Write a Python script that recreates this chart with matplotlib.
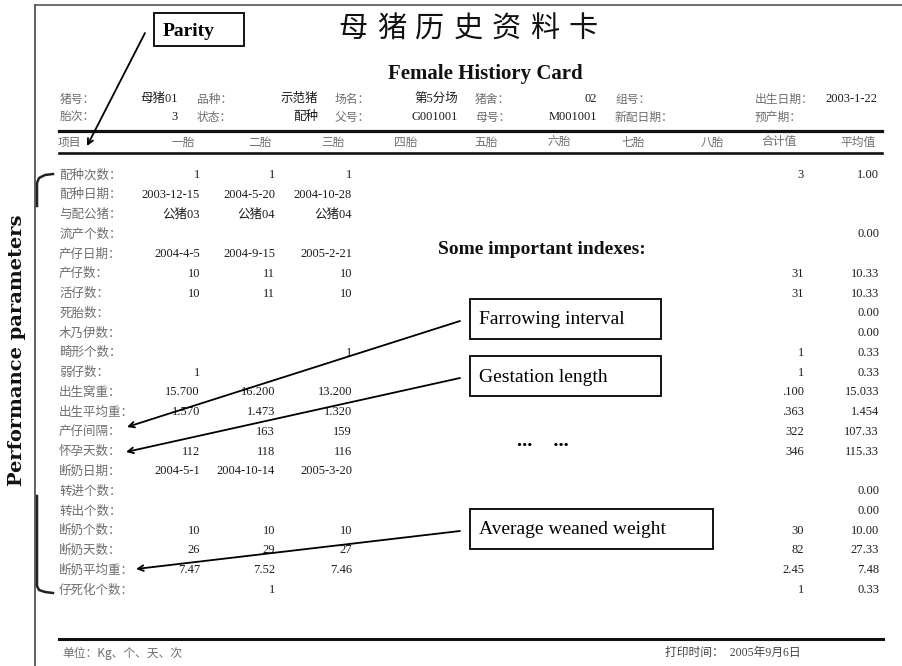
import matplotlib.pyplot as plt

# ── Card data ────────────────────────────────────────────────────────────────
title_cn = "母猪历史资料卡"
title_en = "Female Histiory Card"

info_labels_1 = ["猪号：", "品种：", "场名：", "猪舍：", "组号：", "出生日期："]
info_values_1 = ["母猪01", "示范猪", "第5分场", "02", "", "2003-1-22"]
info_labels_2 = ["胎次：", "状态：", "父号：", "母号：", "新配日期：", "预产期："]
info_values_2 = ["3", "配种", "G001001", "M001001", "", ""]

col_headers = ["项目", "一胎", "二胎", "三胎", "四胎", "五胎", "六胎", "七胎", "八胎", "合计值", "平均值"]

row_labels = ["配种次数：", "配种日期：", "与配公猪：", "流产个数：", "产仔日期：", "产仔数：",
              "活仔数：", "死胎数：", "木乃伊数：", "畸形个数：", "弱仔数：", "出生窝重：",
              "出生平均重：", "产仔间隔：", "怀孕天数：", "断奶日期：", "转进个数：", "转出个数：",
              "断奶个数：", "断奶天数：", "断奶平均重：", "仔死化个数："]

parity1 = ["1", "2003-12-15", "公猪03", "", "2004-4-5", "10", "10", "", "", "", "1", "15.700",
           "1.570", "", "112", "2004-5-1", "", "", "10", "26", "7.47", ""]
parity2 = ["1", "2004-5-20", "公猪04", "", "2004-9-15", "11", "11", "", "", "", "", "16.200",
           "1.473", "163", "118", "2004-10-14", "", "", "10", "29", "7.52", "1"]
parity3 = ["1", "2004-10-28", "公猪04", "", "2005-2-21", "10", "10", "", "", "1", "", "13.200",
           "1.320", "159", "116", "2005-3-20", "", "", "10", "27", "7.46", ""]
totals = ["3", "", "", "", "", "31", "31", "", "", "1", "1", ".100",
          ".363", "322", "346", "", "", "", "30", "82", "2.45", "1"]
averages = ["1.00", "", "", "0.00", "", "10.33", "10.33", "0.00", "0.00", "0.33", "0.33", "15.033",
            "1.454", "107.33", "115.33", "", "0.00", "0.00", "10.00", "27.33", "7.48", "0.33"]

unit_text = "单位：Kg、个、天、次"
print_text = "打印时间：  2005年9月6日"

notes = ["Farrowing interval", "Gestation length", "Average weaned weight"]

# ── Page setup (pixel coordinates) ───────────────────────────────────────────
fig = plt.figure(figsize=(9.02, 6.66), dpi=100)
ax = fig.add_axes([0, 0, 1, 1])
ax.set_xlim(0, 902)
ax.set_ylim(666, 0)
ax.axis("off")

CJK = ["Noto Sans CJK SC", "DejaVu Sans"]
NUM = ["Liberation Serif", "Noto Sans CJK SC"]
GREY = "#6e6e6e"
INK = "#1c1c1c"

# frame
ax.plot([35, 35], [5, 666], color="#444444", lw=1.2)
ax.plot([35, 902], [5, 5], color="#555555", lw=1.2)

# title
for i, ch in enumerate(title_cn):
    ax.text(353 + i * 38.3, 29, ch, family=CJK, fontsize=21, fontweight="medium",
            ha="center", va="center", color="#111111")
ax.text(485, 74, title_en, family="Liberation Serif", fontweight="bold", fontsize=15,
        ha="center", va="center", color="#111111")

# info rows
lab_x = [60, 197, 335, 475, 615, 755]
val_x = [178, 318, 458, 597, 740, 877]
for yy, labs, vals in [(99, info_labels_1, info_values_1), (117, info_labels_2, info_values_2)]:
    for lx, vx, lab, val in zip(lab_x, val_x, labs, vals):
        ax.text(lx, yy, lab, family=CJK, fontsize=8.5, color=GREY, ha="left", va="center")
        ax.text(vx, yy, val, family=NUM, fontsize=9, color=INK, ha="right", va="center")

# header rules
ax.plot([59, 882], [131, 131], color="#111111", lw=2.3)
ax.plot([59, 882], [153, 153], color="#111111", lw=1.9)
hdr_x = [58, 183, 260, 333, 406, 486, 559, 633, 712, 779, 858]
for i, (hx, h) in enumerate(zip(hdr_x, col_headers)):
    ax.text(hx, 142, h, family=CJK, fontsize=8.5, color=GREY,
            ha="left" if i == 0 else "center", va="center")

# table body
row_y0, row_dy = 175, 19.76
col_right = [200, 275, 352, 804, 879]
for r, lab in enumerate(row_labels):
    yy = row_y0 + r * row_dy
    ax.text(59, yy, lab, family=CJK, fontsize=9, color=GREY, ha="left", va="center")
    for cx, col in zip(col_right, [parity1, parity2, parity3, totals, averages]):
        if col[r]:
            ax.text(cx, yy, col[r], family=NUM, fontsize=9, color=INK, ha="right", va="center")

# footer
ax.plot([59, 883], [639, 639], color="#111111", lw=2.2)
ax.text(62, 653, unit_text, family=CJK, fontsize=8.5, color=GREY, ha="left", va="center")
ax.text(665, 653, print_text, family=NUM, fontsize=8.5, color="#444444", ha="left", va="center")

# ── Annotations ──────────────────────────────────────────────────────────────
ax.add_patch(plt.Rectangle((154, 13), 90, 33, fill=False, ec="black", lw=1.3))
ax.text(163, 31, "Parity", family="Liberation Serif", fontweight="bold", fontsize=14,
        ha="left", va="center", color="black")
ax.annotate("", xy=(87, 146), xytext=(145, 33),
            arrowprops=dict(arrowstyle="->", lw=1.3, color="black", shrinkA=0, shrinkB=0))

ax.text(438, 249, "Some important indexes:", family="Liberation Serif", fontweight="bold",
        fontsize=14, ha="left", va="center", color="#111111")

boxes = [(470, 299, 191, 40), (470, 356, 191, 40), (470, 509, 243, 40)]
tips = [(127, 427), (126, 452), (136, 569)]
for (bx, by, bw, bh), note, tip in zip(boxes, notes, tips):
    ax.add_patch(plt.Rectangle((bx, by), bw, bh, fill=False, ec="black", lw=1.3))
    ax.text(bx + 9, by + bh / 2 + 1, note, family="Liberation Serif", fontsize=14,
            ha="left", va="center", color="black")
    ax.annotate("", xy=tip, xytext=(bx - 10, by + bh / 2 + 2),
                arrowprops=dict(arrowstyle="->", lw=1.3, color="black", shrinkA=0, shrinkB=0))

ax.text(543, 441, "...    ...", family="Liberation Serif", fontweight="bold", fontsize=15,
        ha="center", va="center", color="black")

# bracket over the performance rows
ax.plot([53, 45, 39, 37, 37], [174, 175, 178, 183, 206], color="#222222", lw=1.8)
ax.plot([37, 37, 39, 45, 53], [496, 586, 590, 592, 593], color="#222222", lw=1.8)
ax.text(17, 350, "Performance parameters", family="DejaVu Serif", fontweight="bold",
        fontsize=14, rotation=90, ha="center", va="center", color="#111111")

fig.savefig("out.png", dpi=100)
